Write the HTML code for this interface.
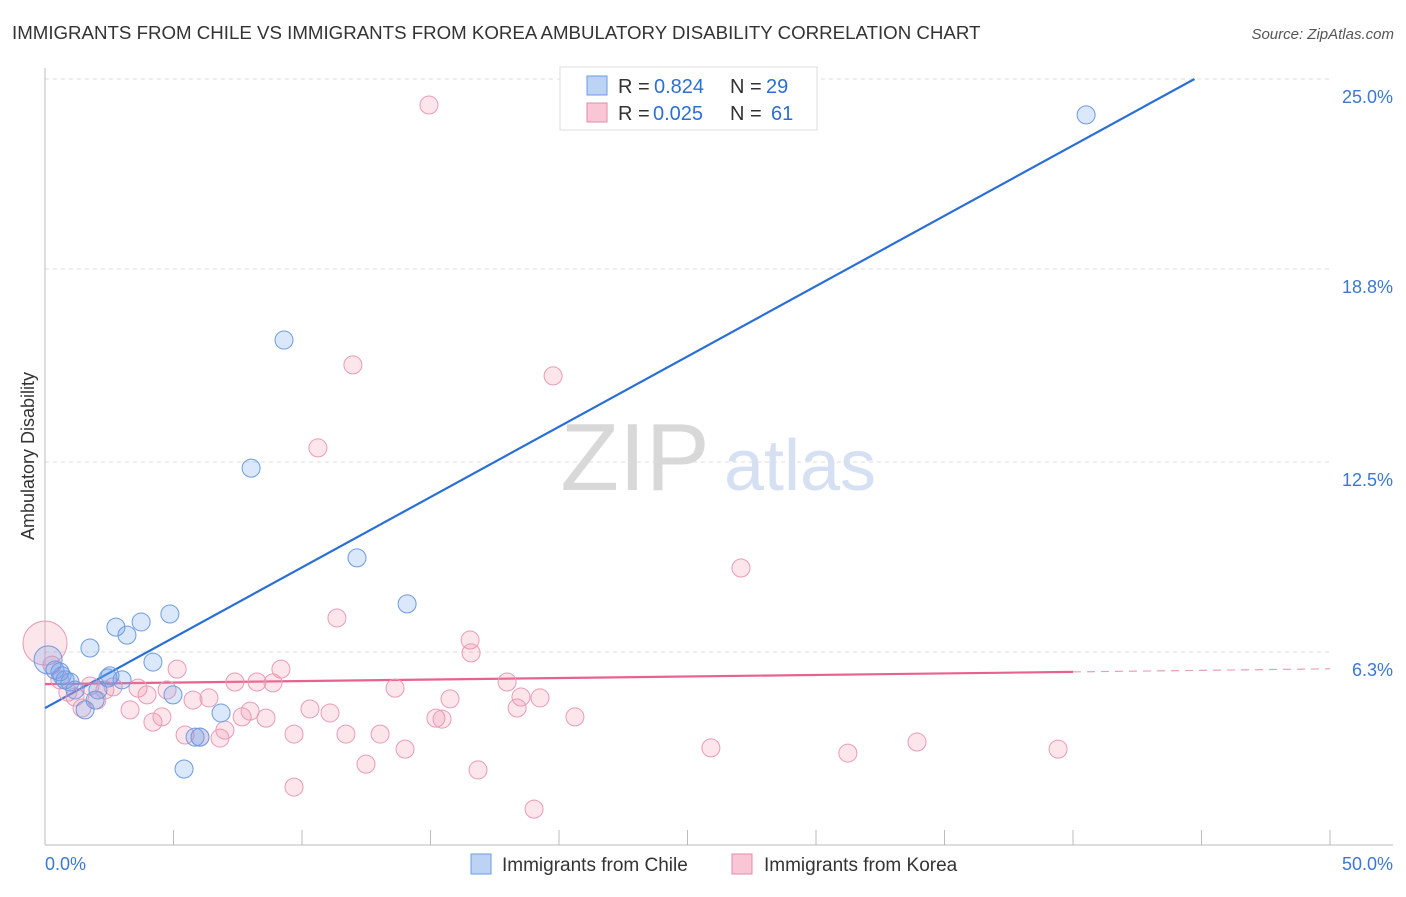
<!DOCTYPE html>
<html><head><meta charset="utf-8"><style>
body{margin:0;background:#fff;font-family:"Liberation Sans",sans-serif;}
svg text{font-family:"Liberation Sans",sans-serif;}
</style></head><body>
<svg id="chart" width="1406" height="892" xmlns="http://www.w3.org/2000/svg">
<text x="12" y="39" font-size="18.7" fill="#333">IMMIGRANTS FROM CHILE VS IMMIGRANTS FROM KOREA AMBULATORY DISABILITY CORRELATION CHART</text>
<text x="1394" y="39" font-size="15" fill="#555" text-anchor="end" font-style="italic">Source: ZipAtlas.com</text>
<text x="34" y="456" font-size="18" fill="#333" text-anchor="middle" transform="rotate(-90 34 456)">Ambulatory Disability</text>
<g><text x="635" y="490" font-size="96" fill="#d8d8d8" text-anchor="middle" font-family="Liberation Serif,serif">ZIP</text><text x="800" y="490" font-size="72" fill="#d5e1f3" text-anchor="middle">atlas</text></g>
<g id="grid"></g><g id="axes"></g><g id="lines"></g><g id="pts"></g>
<g>
<rect x="560" y="67" width="257" height="63" fill="#fff" stroke="#ddd"/>
<rect x="587" y="76" width="20" height="19" fill="#bcd3f5" stroke="#6d9be0"/>
<rect x="587" y="103" width="20" height="19" fill="#f9c6d6" stroke="#e58aa8"/>
<text x="618" y="93" font-size="20" fill="#333">R = </text><text x="654" y="93" font-size="20" fill="#2a6fd6">0.824</text>
<text x="730" y="93" font-size="20" fill="#333">N = </text><text x="766" y="93" font-size="20" fill="#2a6fd6">29</text>
<text x="618" y="120" font-size="20" fill="#333">R = </text><text x="653" y="120" font-size="20" fill="#2a6fd6">0.025</text>
<text x="730" y="120" font-size="20" fill="#333">N = </text><text x="771" y="120" font-size="20" fill="#2a6fd6">61</text>
</g>
<g>
<rect x="471" y="854" width="20" height="20" fill="#bcd3f5" stroke="#6d9be0"/>
<text x="502" y="871" font-size="19" fill="#333">Immigrants from Chile</text>
<rect x="732" y="854" width="20" height="20" fill="#f9c6d6" stroke="#e58aa8"/>
<text x="764" y="871" font-size="19" fill="#333">Immigrants from Korea</text>
</g>
</svg>
<script>
const yTicks=[25.0,18.8,12.5,6.3];
const yTickLabels=["25.0%","18.8%","12.5%","6.3%"];
const xTickLabels=["0.0%","50.0%"];
const chileX=[0.12,0.39,0.66,0.97,1.17,1.56,1.75,1.95,2.06,2.45,2.53,2.76,3.00,3.19,3.74,4.20,4.86,4.98,5.41,5.84,6.03,6.85,8.02,9.30,12.14,14.09,40.51,0.58,0.78];
const chileY=[6.04,5.71,5.52,5.32,5.06,4.41,6.43,4.73,5.06,5.45,5.52,7.11,5.39,6.85,7.28,5.97,7.54,4.90,2.48,3.52,3.52,4.31,12.30,16.48,9.37,7.87,23.83,5.65,5.39];
const koreaX=[0,0.27,0.58,0.89,1.17,1.44,1.75,2.02,2.33,2.65,3.31,3.62,3.97,4.20,4.55,4.75,5.14,5.45,5.76,6.03,6.38,6.81,7.00,7.39,7.67,7.98,8.25,8.60,8.87,9.18,9.69,9.69,10.31,10.62,11.09,11.36,11.71,11.98,12.49,13.04,13.62,14.01,14.94,15.21,15.45,15.76,16.54,16.58,16.85,17.98,18.37,18.52,19.03,19.26,19.77,20.62,25.91,27.08,31.24,33.93,39.42];
const koreaY=[6.59,5.87,5.39,4.99,4.83,4.47,5.19,4.73,5.06,5.16,4.41,5.12,4.90,4.01,4.18,5.06,5.74,3.59,4.73,3.52,4.80,3.49,3.75,5.32,4.18,4.37,5.32,4.14,5.29,5.74,3.62,1.89,4.44,12.96,4.31,7.41,3.62,15.67,2.64,3.62,5.12,3.13,24.15,4.14,4.11,4.77,6.69,6.27,2.45,5.32,4.47,4.83,1.17,4.80,15.31,4.18,3.17,9.04,3.00,3.36,3.13];
const chileTrend=[4.47,0.459];
const koreaTrend=[5.25,0.01];
const NS="http://www.w3.org/2000/svg";
const X=v=>45+v/50*1285, Y=v=>845-v/25*766;
function mk(t,a,p){const e=document.createElementNS(NS,t);for(const k in a)e.setAttribute(k,a[k]);document.getElementById(p).appendChild(e);return e;}
yTicks.forEach((t,i)=>{
 const g=mk('line',{x1:45,x2:1330,y1:Y(t),y2:Y(t),stroke:'#ddd','stroke-dasharray':'4 4'},'grid');
 
 
 const l=mk('text',{x:1393,y:Y(t)+24,'font-size':18,fill:'#3a78d4','text-anchor':'end'},'axes');
 l.textContent=yTickLabels[i];
 
 
});
mk('line',{x1:45,x2:45,y1:68,y2:845,stroke:'#bbb'},'axes');
mk('line',{x1:45,x2:1393,y1:845,y2:845,stroke:'#bbb'},'axes');
for(let v=5;v<=50;v+=5){const t=mk('line',{x1:X(v),x2:X(v),y1:830,y2:845,stroke:'#bbb'},'axes');}
[[0,'start',45],[50,'end',1393]].forEach((d,i)=>{const l=mk('text',{x:d[2],y:870,'font-size':18,fill:'#3a78d4','text-anchor':d[1]},'axes');l.textContent=xTickLabels[i];});
koreaX.forEach((x,i)=>{const c=mk('circle',{cx:X(x),cy:Y(koreaY[i]),r:i===0?22:9,fill:'rgba(240,140,170,0.22)',stroke:'#eb9ab5','stroke-width':1},'pts');});
chileX.forEach((x,i)=>{const c=mk('circle',{cx:X(x),cy:Y(chileY[i]),r:i===0?14:9,fill:'rgba(110,160,235,0.25)',stroke:'#6d9be0','stroke-width':1},'pts');});
const xEnd=(25-chileTrend[0])/chileTrend[1];
const bl=mk('line',{x1:X(0),y1:Y(chileTrend[0]),x2:X(xEnd),y2:Y(25),stroke:'#2a6fd6','stroke-width':2.2},'lines');

const pl=mk('line',{x1:X(0),y1:Y(koreaTrend[0]),x2:X(40),y2:Y(koreaTrend[0]+40*koreaTrend[1]),stroke:'#e8628f','stroke-width':2.2},'lines');

const pd=mk('line',{x1:X(40),y1:Y(koreaTrend[0]+40*koreaTrend[1]),x2:X(50),y2:Y(koreaTrend[0]+50*koreaTrend[1]),stroke:'#e8a0b8','stroke-width':1.2,'stroke-dasharray':'8 6'},'lines');

</script>
</body></html>
